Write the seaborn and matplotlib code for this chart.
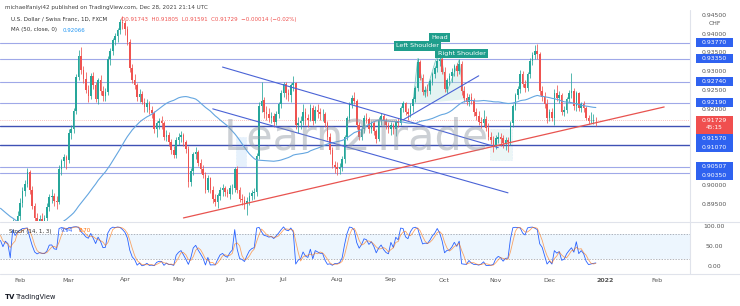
import numpy as np
import pandas as pd
import matplotlib
matplotlib.use("Agg")
import matplotlib.pyplot as plt
from matplotlib.patches import Rectangle, Polygon
import seaborn as sns

# ---------------- data (USD/CHF daily) ----------------
# closes before the visible window (only used for MA(50) and Stoch warm-up)
hist_close = [0.9150, 0.9170, 0.9175, 0.9135, 0.9135, 0.9125, 0.9120, 0.9110, 0.9125, 0.9125,
              0.9140, 0.9115, 0.9105, 0.9110, 0.9065, 0.9080,
              0.9055, 0.9010, 0.8950, 0.8905, 0.8905, 0.8890, 0.8895, 0.8870, 0.8885, 0.8890,
              0.8870, 0.8860, 0.8810, 0.8850, 0.8865, 0.8880, 0.8895, 0.8880, 0.8880, 0.8900,
              0.8885, 0.8820, 0.8850,
              0.8850, 0.8830, 0.8810, 0.8800, 0.8860, 0.8860, 0.8890, 0.8875, 0.8885, 0.8870,
              0.8905, 0.8895, 0.8880]

# (high, low, close) per trading day; open = previous close
jan = [(0.8895, 0.8855, 0.8868), (0.8880, 0.8838, 0.8852), (0.8878, 0.8845, 0.8866),
       (0.8885, 0.8848, 0.8860), (0.8875, 0.8838, 0.8853), (0.8912, 0.8850, 0.8905),
       (0.8910, 0.8880, 0.8895), (0.8935, 0.8885, 0.8920)]
feb = [(0.8968, 0.8910, 0.8955), (0.8998, 0.8945, 0.8988), (0.9015, 0.8975, 0.9005),
       (0.9048, 0.8998, 0.9038), (0.9042, 0.8980, 0.8990), (0.9000, 0.8940, 0.8948),
       (0.8955, 0.8905, 0.8915), (0.8930, 0.8895, 0.8905), (0.8925, 0.8890, 0.8912),
       (0.8928, 0.8895, 0.8908), (0.8925, 0.8890, 0.8915), (0.8955, 0.8905, 0.8945),
       (0.8980, 0.8935, 0.8972), (0.8992, 0.8955, 0.8975), (0.8982, 0.8948, 0.8960),
       (0.8975, 0.8940, 0.8958), (0.9055, 0.8952, 0.9045), (0.9072, 0.9030, 0.9065),
       (0.9085, 0.9050, 0.9075), (0.9082, 0.9045, 0.9068)]
mar = [(0.9150, 0.9060, 0.9140), (0.9160, 0.9125, 0.9150), (0.9205, 0.9140, 0.9198),
       (0.9295, 0.9190, 0.9288), (0.9358, 0.9280, 0.9342), (0.9365, 0.9295, 0.9305),
       (0.9315, 0.9270, 0.9282), (0.9300, 0.9245, 0.9252), (0.9265, 0.9222, 0.9238),
       (0.9298, 0.9230, 0.9290), (0.9300, 0.9255, 0.9265), (0.9275, 0.9220, 0.9228),
       (0.9285, 0.9215, 0.9278), (0.9292, 0.9240, 0.9250), (0.9262, 0.9225, 0.9238),
       (0.9258, 0.9225, 0.9248), (0.9342, 0.9240, 0.9335), (0.9362, 0.9318, 0.9355),
       (0.9390, 0.9345, 0.9385), (0.9402, 0.9370, 0.9395), (0.9415, 0.9380, 0.9410),
       (0.9440, 0.9400, 0.9432), (0.9448, 0.9412, 0.9428)]
apr = [(0.9438, 0.9398, 0.9412), (0.9420, 0.9370, 0.9380), (0.9388, 0.9300, 0.9310),
       (0.9320, 0.9270, 0.9280), (0.9295, 0.9255, 0.9265), (0.9272, 0.9225, 0.9235),
       (0.9255, 0.9220, 0.9242), (0.9250, 0.9215, 0.9222), (0.9232, 0.9195, 0.9207),
       (0.9228, 0.9195, 0.9218), (0.9225, 0.9190, 0.9200), (0.9210, 0.9180, 0.9192),
       (0.9198, 0.9140, 0.9150), (0.9172, 0.9130, 0.9165), (0.9180, 0.9150, 0.9170),
       (0.9185, 0.9150, 0.9165), (0.9172, 0.9122, 0.9130), (0.9148, 0.9118, 0.9135),
       (0.9142, 0.9105, 0.9115), (0.9125, 0.9085, 0.9095), (0.9105, 0.9075, 0.9082),
       (0.9128, 0.9075, 0.9120)]
may = [(0.9140, 0.9108, 0.9130), (0.9145, 0.9115, 0.9135), (0.9140, 0.9105, 0.9115),
       (0.9122, 0.9088, 0.9098), (0.9105, 0.8998, 0.9010), (0.9048, 0.9000, 0.9040),
       (0.9090, 0.9030, 0.9085), (0.9102, 0.9070, 0.9090), (0.9095, 0.9052, 0.9060),
       (0.9070, 0.9035, 0.9045), (0.9055, 0.9020, 0.9030), (0.9038, 0.8982, 0.8990),
       (0.9030, 0.8985, 0.9020), (0.9025, 0.8982, 0.8990), (0.9000, 0.8955, 0.8965),
       (0.8978, 0.8948, 0.8958), (0.8982, 0.8942, 0.8975), (0.8998, 0.8962, 0.8990),
       (0.9005, 0.8975, 0.8995), (0.9000, 0.8975, 0.8985), (0.8992, 0.8970, 0.8980)]
jun = [(0.9002, 0.8965, 0.8995), (0.9005, 0.8978, 0.8995), (0.9050, 0.8985, 0.9045),
       (0.9052, 0.8982, 0.8990), (0.8998, 0.8958, 0.8965), (0.8978, 0.8950, 0.8962),
       (0.8975, 0.8940, 0.8955), (0.8970, 0.8925, 0.8960), (0.8985, 0.8950, 0.8975),
       (0.8990, 0.8962, 0.8982), (0.8995, 0.8965, 0.8985), (0.9088, 0.8975, 0.9080),
       (0.9220, 0.9070, 0.9210), (0.9275, 0.9195, 0.9225), (0.9235, 0.9180, 0.9195),
       (0.9210, 0.9175, 0.9190), (0.9205, 0.9168, 0.9180), (0.9195, 0.9165, 0.9185),
       (0.9192, 0.9155, 0.9168), (0.9198, 0.9160, 0.9190), (0.9222, 0.9180, 0.9215),
       (0.9252, 0.9205, 0.9245)]
jul = [(0.9275, 0.9235, 0.9268), (0.9275, 0.9230, 0.9245), (0.9255, 0.9225, 0.9240),
       (0.9270, 0.9220, 0.9265), (0.9290, 0.9250, 0.9270), (0.9275, 0.9150, 0.9160),
       (0.9182, 0.9140, 0.9165), (0.9185, 0.9150, 0.9170), (0.9215, 0.9160, 0.9195),
       (0.9205, 0.9160, 0.9180), (0.9190, 0.9155, 0.9175), (0.9215, 0.9170, 0.9205),
       (0.9212, 0.9160, 0.9170), (0.9210, 0.9165, 0.9200), (0.9215, 0.9180, 0.9195),
       (0.9205, 0.9175, 0.9190), (0.9202, 0.9172, 0.9190), (0.9195, 0.9155, 0.9165),
       (0.9172, 0.9120, 0.9130), (0.9140, 0.9085, 0.9095), (0.9102, 0.9048, 0.9055),
       (0.9065, 0.9035, 0.9050)]
aug = [(0.9062, 0.9030, 0.9045), (0.9060, 0.9032, 0.9050), (0.9078, 0.9040, 0.9070),
       (0.9135, 0.9060, 0.9130), (0.9185, 0.9120, 0.9180), (0.9220, 0.9170, 0.9215),
       (0.9240, 0.9205, 0.9232), (0.9248, 0.9215, 0.9225), (0.9230, 0.9150, 0.9160),
       (0.9168, 0.9120, 0.9130), (0.9158, 0.9122, 0.9150), (0.9188, 0.9140, 0.9180),
       (0.9192, 0.9165, 0.9175), (0.9182, 0.9140, 0.9150), (0.9172, 0.9140, 0.9165),
       (0.9170, 0.9135, 0.9145), (0.9150, 0.9112, 0.9125), (0.9182, 0.9118, 0.9175),
       (0.9192, 0.9160, 0.9185), (0.9190, 0.9160, 0.9170), (0.9178, 0.9150, 0.9160),
       (0.9168, 0.9140, 0.9150)]
sep = [(0.9168, 0.9135, 0.9160), (0.9165, 0.9138, 0.9150), (0.9175, 0.9132, 0.9170),
       (0.9178, 0.9155, 0.9165), (0.9210, 0.9160, 0.9205), (0.9225, 0.9195, 0.9218),
       (0.9222, 0.9188, 0.9195), (0.9205, 0.9175, 0.9190), (0.9218, 0.9182, 0.9210),
       (0.9235, 0.9195, 0.9230), (0.9262, 0.9220, 0.9258), (0.9338, 0.9250, 0.9325),
       (0.9332, 0.9278, 0.9285), (0.9295, 0.9240, 0.9248), (0.9262, 0.9235, 0.9252),
       (0.9268, 0.9238, 0.9250), (0.9282, 0.9242, 0.9275), (0.9300, 0.9265, 0.9295),
       (0.9315, 0.9285, 0.9310), (0.9338, 0.9300, 0.9328), (0.9368, 0.9315, 0.9335),
       (0.9345, 0.9295, 0.9300)]
oct_ = [(0.9312, 0.9248, 0.9255), (0.9285, 0.9245, 0.9280), (0.9298, 0.9265, 0.9290),
        (0.9310, 0.9275, 0.9300), (0.9322, 0.9290, 0.9315), (0.9325, 0.9290, 0.9302),
        (0.9335, 0.9295, 0.9320), (0.9328, 0.9240, 0.9250), (0.9262, 0.9222, 0.9232),
        (0.9245, 0.9212, 0.9222), (0.9242, 0.9210, 0.9235), (0.9245, 0.9215, 0.9225),
        (0.9232, 0.9185, 0.9195), (0.9205, 0.9175, 0.9185), (0.9198, 0.9160, 0.9168),
        (0.9182, 0.9152, 0.9165), (0.9200, 0.9158, 0.9175), (0.9185, 0.9145, 0.9152),
        (0.9165, 0.9122, 0.9130), (0.9142, 0.9110, 0.9120), (0.9132, 0.9090, 0.9105)]
nov = [(0.9135, 0.9098, 0.9125), (0.9142, 0.9112, 0.9130), (0.9140, 0.9105, 0.9125),
       (0.9135, 0.9100, 0.9112), (0.9130, 0.9095, 0.9120), (0.9128, 0.9090, 0.9115),
       (0.9172, 0.9108, 0.9165), (0.9215, 0.9155, 0.9210), (0.9245, 0.9200, 0.9240),
       (0.9262, 0.9228, 0.9255), (0.9305, 0.9245, 0.9295), (0.9302, 0.9260, 0.9268),
       (0.9280, 0.9248, 0.9258), (0.9300, 0.9250, 0.9295), (0.9338, 0.9285, 0.9330),
       (0.9352, 0.9318, 0.9345), (0.9370, 0.9335, 0.9355), (0.9373, 0.9335, 0.9348),
       (0.9352, 0.9240, 0.9250), (0.9262, 0.9225, 0.9235), (0.9248, 0.9205, 0.9215),
       (0.9228, 0.9165, 0.9180)]
dec = [(0.9202, 0.9170, 0.9195), (0.9205, 0.9172, 0.9180), (0.9255, 0.9160, 0.9245),
       (0.9265, 0.9225, 0.9232), (0.9250, 0.9218, 0.9240), (0.9245, 0.9188, 0.9195),
       (0.9210, 0.9185, 0.9200), (0.9235, 0.9192, 0.9228), (0.9252, 0.9220, 0.9245),
       (0.9298, 0.9232, 0.9250), (0.9258, 0.9200, 0.9210), (0.9250, 0.9198, 0.9245),
       (0.9248, 0.9198, 0.9205), (0.9222, 0.9195, 0.9215), (0.9225, 0.9195, 0.9205),
       (0.9210, 0.9175, 0.9180), (0.9188, 0.9162, 0.9170), (0.9195, 0.9165, 0.9172),
       (0.9190, 0.9162, 0.9174), (0.91805, 0.91591, 0.91729)]
last_open = 0.91743
first_date = "2021-01-20"

# horizontal levels drawn by the author
levels = [0.93770, 0.93350, 0.92740, 0.92190, 0.91570, 0.91070, 0.90507, 0.90350]
level_labels = ["0.93770", "0.93350", "0.92740", "0.92190", "0.91570", "0.91070", "0.90507", "0.90350"]
level_strong = [False, False, False, False, True, True, False, False]

# trend lines: (date, price) anchors
red_trend = [("2021-05-05", 0.8916), ("2022-02-04", 0.9208)]
chan_upper = [("2021-05-27", 0.9313), ("2021-11-02", 0.9101)]
chan_lower = [("2021-05-21", 0.9203), ("2021-11-08", 0.8982)]
neckline = [("2021-09-08", 0.9174), ("2021-10-21", 0.9290)]
hs_points = [("2021-09-14", 0.9215), ("2021-09-16", 0.9335), ("2021-09-21", 0.9238),
             ("2021-09-29", 0.9366), ("2021-10-04", 0.9248), ("2021-10-11", 0.9332),
             ("2021-10-13", 0.9228)]
range_boxes = [("2021-06-04", "2021-06-09", 0.9050, 0.9129, "#d6e9fb"),
               ("2021-10-28", "2021-11-09", 0.9068, 0.9150, "#e0f1f1")]

price_ticks = [0.945, 0.940, 0.935, 0.930, 0.925, 0.920, 0.915, 0.910, 0.905, 0.900, 0.895]
stoch_ticks = [100, 50, 0]
month_marks = [("2021-02-01", "Feb"), ("2021-03-01", "Mar"), ("2021-04-01", "Apr"),
               ("2021-05-03", "May"), ("2021-06-01", "Jun"), ("2021-07-01", "Jul"),
               ("2021-08-02", "Aug"), ("2021-09-01", "Sep"), ("2021-10-01", "Oct"),
               ("2021-11-01", "Nov"), ("2021-12-01", "Dec"), ("2022-01-03", "2022"),
               ("2022-02-01", "Feb")]

# ---------------- preparation ----------------
sns.set_theme(style="white")
plt.rcParams["font.family"] = ["DejaVu Sans"]

bars = jan + feb + mar + apr + may + jun + jul + aug + sep + oct_ + nov + dec
high = np.array([b[0] for b in bars])
low = np.array([b[1] for b in bars])
close = np.array([b[2] for b in bars])
n = len(bars)
hist = np.array(hist_close)
open_ = np.concatenate([[hist[-1]], close[:-1]])
open_[-1] = last_open
high = np.maximum(high, np.maximum(open_, close))
low = np.minimum(low, np.minimum(open_, close))

dates = pd.bdate_range(first_date, periods=n + 70)
zero = list(dates).index(pd.Timestamp("2021-02-01"))
posmap = {d: i - zero for i, d in enumerate(dates)}
def P(d):
    return posmap[pd.Timestamp(d)]
x = np.arange(n) - zero

full_close = np.concatenate([hist, close])
full_high = np.concatenate([hist, high])
full_low = np.concatenate([hist, low])
ma = pd.Series(full_close).rolling(50).mean().values[len(hist):]
hh = pd.Series(full_high).rolling(14).max()
ll = pd.Series(full_low).rolling(14).min()
k = 100 * (pd.Series(full_close) - ll) / (hh - ll)
d = k.rolling(3).mean()
k = k.values[len(hist):]
d = d.values[len(hist):]

# ---------------- figure geometry (pixels) ----------------
W, H = 740, 306
fig = plt.figure(figsize=(W / 100, H / 100), dpi=100)
fig.patch.set_facecolor("white")
def fx(px): return px / W
def fy(py): return 1 - py / H

MAIN_T, MAIN_B, ST_T, ST_B, RIGHT = 12, 221, 223, 273, 690
PX0, PXS = 20.0, 2.44           # pixel of Feb 1 and pixels per bar
ax = fig.add_axes([0, fy(MAIN_B), RIGHT / W, (MAIN_B - MAIN_T) / H])
axs = fig.add_axes([0, fy(ST_B), RIGHT / W, (ST_B - ST_T) / H])
xl = (-PX0 / PXS, (RIGHT - PX0) / PXS)
P_TOP = 0.94 + (34 - MAIN_T) / 3800
P_BOT = 0.94 - (MAIN_B - 34) / 3800
S_TOP = (267 - ST_T) / 0.41
S_BOT = (267 - ST_B) / 0.41
for a in (ax, axs):
    a.set_xlim(*xl)
    a.set_facecolor("white")
    for s in a.spines.values():
        s.set_visible(False)
    a.set_xticks([]); a.set_yticks([])
ax.set_ylim(P_BOT, P_TOP)
axs.set_ylim(S_BOT, S_TOP)

def py_of(p):
    return MAIN_T + (P_TOP - p) / (P_TOP - P_BOT) * (MAIN_B - MAIN_T)

GREEN, RED = "#26a69a", "#ef5350"

# ---------------- main pane ----------------
for lv, strong in zip(levels, level_strong):
    ax.axhline(lv, color="#3f51b5" if strong else "#9fa8e8", lw=1.0 if strong else 0.8, zorder=2)

for x0, x1, p0, p1, c in range_boxes:
    ax.add_patch(Rectangle((P(x0) - 0.5, p0), P(x1) - P(x0) + 1, p1 - p0,
                           fc=c, ec="#b3d4f5", lw=0.4, ls=":", alpha=0.6, zorder=1))

hs = np.array([(P(dd), pp) for dd, pp in hs_points])
ax.add_patch(Polygon(hs, closed=True, fc="#b2dfdb", ec="none", alpha=0.35, zorder=2))
ax.plot(hs[:, 0], hs[:, 1], color="#80cbc4", lw=0.6, zorder=2)

up = close >= open_
col = np.where(up, GREEN, RED)
ax.vlines(x, low, high, colors=col, lw=0.55, zorder=3)
body_lo = np.minimum(open_, close)
body_h = np.maximum(np.abs(close - open_), 0.00007)
ax.bar(x, body_h, bottom=body_lo, width=0.66, color=col, lw=0, zorder=4)

sns.lineplot(x=x, y=ma, ax=ax, color="#64a6e0", lw=0.8, zorder=5)

for line, c, w in [(chan_upper, "#4a63d6", 0.8), (chan_lower, "#4a63d6", 0.8),
                   (neckline, "#4a63d6", 0.8), (red_trend, "#e8534f", 0.9)]:
    ax.plot([P(line[0][0]), P(line[1][0])], [line[0][1], line[1][1]], color=c, lw=w, zorder=6)

ax.axhline(close[-1], color=RED, lw=0.5, ls=(0, (1, 2)), alpha=0.7, zorder=2)

ax.text(P("2021-08-12"), 0.9128, "Learn2Trade", fontsize=31, color="#8f98a3",
        alpha=0.45, ha="center", va="center", zorder=7)

def tag(xpos, ypx, text, fc="#1f9e8c"):
    ax.text(xpos, P_TOP - (ypx - MAIN_T) / (MAIN_B - MAIN_T) * (P_TOP - P_BOT), text,
            fontsize=4.6, color="white", ha="center", va="center", zorder=9,
            bbox=dict(boxstyle="square,pad=0.35", fc=fc, ec="none"))
tag(P("2021-09-16"), 46, "Left Shoulder")
tag(P("2021-09-29"), 37.5, "Head")
tag(P("2021-10-12"), 53.5, "Right Shoulder")

# ---------------- stochastic pane ----------------
axs.axhspan(20, 80, color="#2196f3", alpha=0.08, lw=0)
for lvl in (80, 20):
    axs.axhline(lvl, color="#9598a1", lw=0.5, ls=(0, (2, 2)))
sns.lineplot(x=x, y=k, ax=axs, color="#2962ff", lw=0.6)
sns.lineplot(x=x, y=d, ax=axs, color="#ff6d00", lw=0.6, alpha=0.6)

# ---------------- frame lines ----------------
for yy in (ST_T - 1, ST_B + 1):
    fig.add_artist(plt.Line2D([0, fx(W)], [fy(yy), fy(yy)], color="#e0e3eb", lw=0.8))
fig.add_artist(plt.Line2D([fx(RIGHT), fx(RIGHT)], [fy(MAIN_T - 2), fy(ST_B + 1)], color="#e0e3eb", lw=0.8))

# ---------------- right price scale ----------------
LX0, LX1 = 696, 733
LC = (LX0 + LX1) / 2
BH = 9.0
items = [(py_of(close[-1]), "cur", None)] + [(py_of(lv), "lvl", t) for lv, t in zip(levels, level_labels)]
items.sort(key=lambda t: t[0])
prev_bottom = -1e9
spans = []
for yc, kind, t in items:
    if kind == "cur":
        top, bot = yc - 4.5, yc + 13.5
        fig.add_artist(Rectangle((fx(LX0), fy(bot)), (LX1 - LX0) / W, (bot - top) / H,
                                 transform=fig.transFigure, fc="#f04f4f", ec="none", zorder=5))
        fig.text(fx(LC), fy(yc), f"{close[-1]:.5f}", fontsize=4.4, color="white",
                 ha="center", va="center", zorder=6)
        fig.text(fx(LC), fy(yc + 7.5), "45:15", fontsize=4.2, color="white",
                 ha="center", va="center", zorder=6)
        spans.append((top, bot))
        prev_bottom = bot
    else:
        yc2 = max(yc, prev_bottom + BH / 2)
        fig.add_artist(Rectangle((fx(LX0), fy(yc2 + BH / 2)), (LX1 - LX0) / W, BH / H,
                                 transform=fig.transFigure, fc="#2f62f0", ec="none", zorder=5))
        fig.text(fx(LC), fy(yc2), t, fontsize=4.4, color="white", ha="center", va="center", zorder=6)
        spans.append((yc2 - BH / 2, yc2 + BH / 2))
        prev_bottom = yc2 + BH / 2

for p in price_ticks:
    yp = py_of(p)
    if any(a - 1 <= yp <= b + 1 for a, b in spans):
        continue
    fig.text(fx(LC), fy(yp), f"{p:.5f}", fontsize=4.4, color="#555555", ha="center", va="center")
fig.text(fx(LC), fy(py_of(0.945) + 8), "CHF", fontsize=4.4, color="#555555", ha="center", va="center")

def spy(v):
    return 267 - v * 0.41
for v in stoch_ticks:
    fig.text(fx(LC), fy(spy(v)), f"{v:.2f}", fontsize=4.4, color="#555555", ha="center", va="center")

# ---------------- time axis ----------------
for dd, lab in month_marks:
    px = PX0 + PXS * P(dd)
    fig.text(fx(px), fy(280), lab, fontsize=4.5, color="#555555", ha="center", va="center",
             fontweight="bold" if lab == "2022" else "normal")

# ---------------- header / legends ----------------
fig.text(fx(5), fy(7), "michaelfaniyi42 published on TradingView.com, Dec 28, 2021 21:14 UTC",
         fontsize=4.1, color="#444444", ha="left", va="center")
fig.text(fx(11), fy(19), "U.S. Dollar / Swiss Franc, 1D, FXCM", fontsize=4.0, color="#333333",
         ha="left", va="center")
fig.text(fx(121), fy(19),
         f"O{last_open:.5f}  H{high[-1]:.5f}  L{low[-1]:.5f}  C{close[-1]:.5f}  "
         f"\u2212{abs(close[-1]-last_open):.5f} (\u2212{abs(close[-1]-last_open)/last_open*100:.2f}%)",
         fontsize=4.0, color="#ef5350", ha="left", va="center")
fig.text(fx(11), fy(30), "MA (50, close, 0)", fontsize=4.0, color="#333333", ha="left", va="center")
fig.text(fx(63), fy(30), f"{ma[-1]:.5f}", fontsize=4.0, color="#2196f3", ha="left", va="center")

fig.text(fx(9), fy(231), "Stoch (14, 1, 3)", fontsize=4.0, color="#333333", ha="left", va="center")
fig.text(fx(61), fy(231), f"{k[-1]:.2f}", fontsize=4.0, color="#2962ff", ha="left", va="center")
fig.text(fx(79), fy(231), f"{d[-1]:.2f}", fontsize=4.0, color="#ff6d00", ha="left", va="center")

fig.text(fx(5), fy(297), "TV", fontsize=5.0, color="#131722", fontweight="bold", ha="left", va="center")
fig.text(fx(16), fy(297), "TradingView", fontsize=4.8, color="#131722", ha="left", va="center")

fig.savefig("out.png", dpi=100, facecolor="white")
